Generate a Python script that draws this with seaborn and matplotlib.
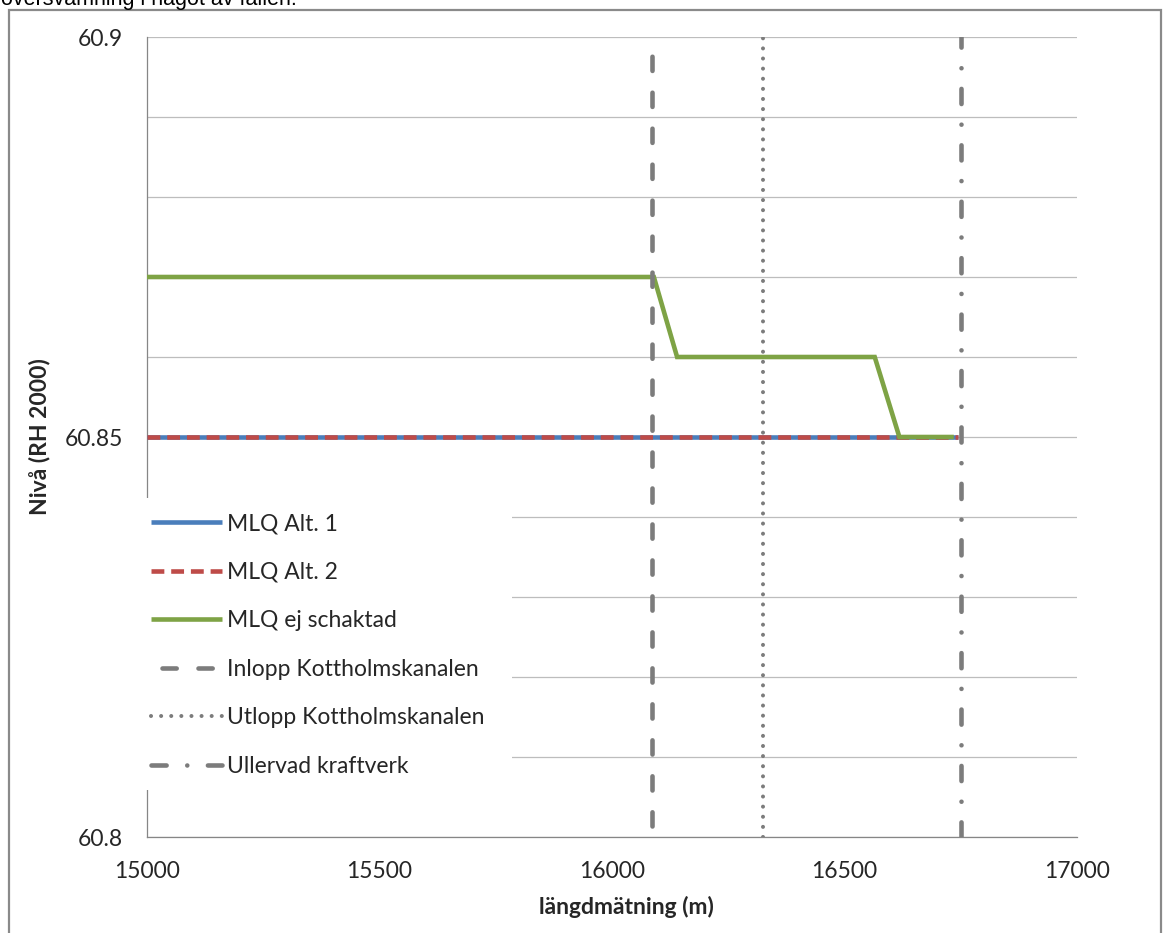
import matplotlib
matplotlib.use("Agg")
import matplotlib.pyplot as plt
from matplotlib.patches import Rectangle
from matplotlib.ticker import MultipleLocator, FixedLocator, FixedFormatter
import seaborn as sns
import pandas as pd

# --- data -------------------------------------------------------------
alt1_x = [15000, 16745]
alt1_y = [60.85, 60.85]

alt2_x = [15000, 16745]
alt2_y = [60.85, 60.85]

ej_schaktad_x = [15000, 16090, 16140, 16565, 16618, 16735]
ej_schaktad_y = [60.87, 60.87, 60.86, 60.86, 60.85, 60.85]

inlopp_x = 16087
utlopp_x = 16324
ullervad_x = 16751

series_labels = ["MLQ Alt. 1", "MLQ Alt. 2", "MLQ ej schaktad",
                 "Inlopp Kottholmskanalen", "Utlopp Kottholmskanalen",
                 "Ullervad kraftverk"]

y_ticks = [60.8, 60.85, 60.9]
y_tick_labels = ["60.8", "60.85", "60.9"]
x_ticks = [15000, 15500, 16000, 16500, 17000]

# --- styling ----------------------------------------------------------
sns.set_theme(style="white")
plt.rcParams["font.family"] = ["Lato", "DejaVu Sans"]

BLUE = "#4a7ebb"
RED = "#be4b48"
GREEN = "#7ea345"
GREY = "#7c7c7c"
TEXT = "#262626"
FS = 16.5

fig = plt.figure(figsize=(11.64, 9.33), dpi=100)
ax = fig.add_axes([147 / 1164, 1 - 837 / 933, 930 / 1164, 800 / 933])

df1 = pd.DataFrame({"x": alt1_x, "y": alt1_y})
df2 = pd.DataFrame({"x": alt2_x, "y": alt2_y})
df3 = pd.DataFrame({"x": ej_schaktad_x, "y": ej_schaktad_y})

lw = 3.3
sns.lineplot(data=df1, x="x", y="y", ax=ax, color=BLUE, lw=lw,
             solid_capstyle="butt", zorder=3)
h_alt1 = ax.lines[-1]
sns.lineplot(data=df2, x="x", y="y", ax=ax, color=RED, lw=lw,
             dashes=False, zorder=3.1)
h_alt2 = ax.lines[-1]
h_alt2.set_linestyle((0, (2.8, 1.5)))
h_alt2.set_dash_capstyle("butt")
sns.lineplot(data=df3, x="x", y="y", ax=ax, color=GREEN, lw=lw,
             solid_capstyle="butt", solid_joinstyle="miter", zorder=3.2)
h_ej = ax.lines[-1]

h_in = ax.axvline(inlopp_x, color=GREY, lw=lw, ls=(5.45, (3.1, 4.75)),
                  dash_capstyle="round", zorder=3.5)
h_ut = ax.axvline(utlopp_x, color=GREY, lw=2.9, ls=(0, (0.01, 2.5)),
                  dash_capstyle="round", zorder=3.5)
h_ull = ax.axvline(ullervad_x, color=GREY, lw=lw,
                   ls=(0, (3.3, 4.5, 0.01, 4.5)),
                   dash_capstyle="round", zorder=3.5)

# --- axes -------------------------------------------------------------
ax.set_xlim(15000, 17000)
ax.set_ylim(60.8, 60.9)
ax.set_xticks(x_ticks)
ax.set_xticklabels([str(v) for v in x_ticks])
ax.yaxis.set_major_locator(FixedLocator(y_ticks))
ax.yaxis.set_major_formatter(FixedFormatter(y_tick_labels))
ax.yaxis.set_minor_locator(MultipleLocator(0.01))
ax.grid(False)
ax.grid(True, axis="y", which="both", color="#bdbdbd", lw=0.9, zorder=1)
ax.set_axisbelow(True)

for side in ("top", "right"):
    ax.spines[side].set_visible(False)
for side in ("left", "bottom"):
    ax.spines[side].set_color("#868686")
    ax.spines[side].set_linewidth(0.9)

ax.tick_params(axis="both", which="major", direction="out", length=6.5,
               width=0.9, color="#868686", labelsize=FS, labelcolor=TEXT)
ax.tick_params(axis="y", which="major", pad=11)
ax.tick_params(axis="x", which="major", pad=11)
ax.tick_params(axis="y", which="minor", length=0)

ax.set_xlabel("längdmätning (m)", fontsize=FS, fontweight="bold", color=TEXT)
ax.set_ylabel("Nivå (RH 2000)", fontsize=FS, fontweight="bold", color=TEXT)
ax.xaxis.set_label_coords(0.516, -0.074)
ax.yaxis.set_label_coords(-0.104, 0.5)

# legend sits on a white panel inside the plot area
panel = Rectangle((-0.003, 0.0588), 0.3955, 0.365, transform=ax.transAxes,
                  facecolor="white", edgecolor="none", zorder=4,
                  clip_on=False)
ax.add_patch(panel)
leg = ax.legend([h_alt1, h_alt2, h_ej, h_in, h_ut, h_ull], series_labels,
                loc="upper left", bbox_to_anchor=(0.004, 0.4045),
                frameon=False, fontsize=FS, handlelength=3.1,
                handletextpad=0.25, labelspacing=1.2, borderpad=0,
                borderaxespad=0)
leg.set_zorder(5)
for t in leg.get_texts():
    t.set_color(TEXT)

# chart-area frame and the caption line above it
fig.add_artist(Rectangle((9 / 1164, -0.02), 1152 / 1164, 1 - 10 / 933 + 0.02,
                         transform=fig.transFigure, facecolor="none",
                         edgecolor="#8a8a8a", lw=1.6))
fig.text(0.001, 1 - 4.5 / 933, "översvämning i något av fallen.",
         family="Liberation Sans", fontsize=15.5, va="baseline", ha="left",
         color="#000000")

fig.savefig("out.png", dpi=100)
